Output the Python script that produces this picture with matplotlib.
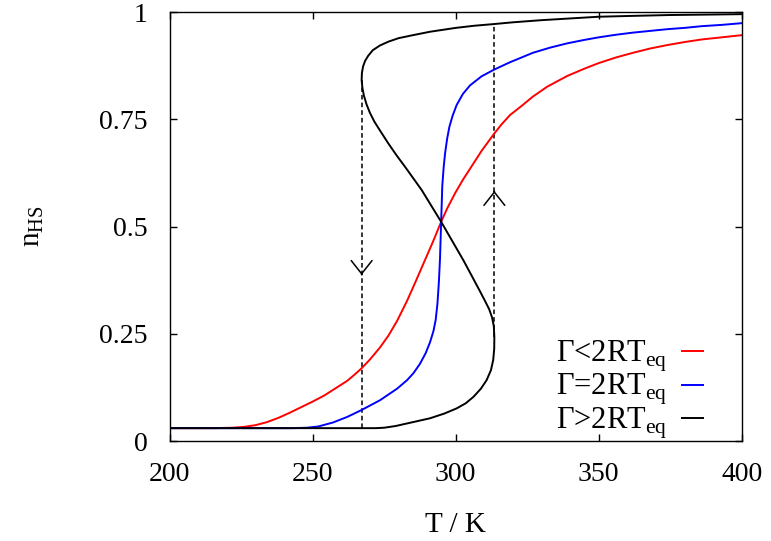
import matplotlib
matplotlib.use("Agg")
import matplotlib.pyplot as plt
from matplotlib.lines import Line2D

plt.rcParams['font.family'] = ['Liberation Serif', 'DejaVu Serif']
plt.rcParams['mathtext.fontset'] = 'custom'
plt.rcParams['mathtext.rm'] = 'Liberation Serif'

# values
T_red = [200, 215, 222, 226, 230, 234, 238, 242, 246, 250, 254, 258, 262, 264.5, 267,
         270, 273.5, 276.5, 279.5, 283, 286, 289, 292, 294.9, 297, 299.8, 302.6, 306,
         309, 313.5, 316, 319, 323, 327, 332, 339, 345, 350, 356, 362, 368, 374, 380,
         386, 393, 400]
n_red = [0.030, 0.030, 0.031, 0.033, 0.037, 0.044, 0.054, 0.066, 0.079, 0.092, 0.106,
         0.123, 0.140, 0.154, 0.169, 0.190, 0.218, 0.246, 0.280, 0.327, 0.372, 0.418,
         0.464, 0.511, 0.542, 0.578, 0.610, 0.645, 0.676, 0.717, 0.738, 0.760, 0.781,
         0.803, 0.826, 0.851, 0.868, 0.881, 0.894, 0.905, 0.915, 0.923, 0.930, 0.936,
         0.941, 0.946]

T_blue = [200, 243, 248, 252, 257, 262, 267, 273.5, 279.5, 283, 285.2, 287.5, 289.5,
          291, 292.2, 293, 293.6, 294.1, 294.5, 294.9, 295.3, 295.8, 296.3, 297, 297.8,
          298.9, 300.3, 302.5, 305, 309, 313.5, 319, 327, 333, 339, 345, 350, 356, 362,
          368, 374, 380, 386, 393, 400]
n_blue = [0.030, 0.030, 0.031, 0.034, 0.043, 0.056, 0.072, 0.095, 0.122, 0.142, 0.158,
          0.180, 0.205, 0.230, 0.256, 0.283, 0.320, 0.370, 0.425, 0.511, 0.595, 0.640,
          0.672, 0.705, 0.733, 0.758, 0.783, 0.809, 0.829, 0.850, 0.866, 0.883, 0.905,
          0.917, 0.927, 0.935, 0.941, 0.947, 0.952, 0.956, 0.960, 0.963, 0.967, 0.970,
          0.974]

T_black = [200, 272, 275, 279, 283, 287, 291, 296, 300.3, 303.5, 306.2, 308.8, 310.8,
           312.3, 313.1, 313.45, 313.5, 313.3, 312.7, 311.7, 310.2, 308.4, 305.6, 302.7,
           298.8, 294.9, 291.5, 288.1, 285.2, 282.3, 279.3, 276.4, 273.5, 271.6, 270.0,
           268.8, 267.9, 267.4, 267.1, 267.2, 267.6, 268.3, 269.4, 271.0, 273.5, 276.5,
           280, 285, 291, 300, 306.5, 313.5, 320, 330, 340, 350, 362, 375, 388, 400]
n_black = [0.030, 0.030, 0.031, 0.035, 0.041, 0.047, 0.053, 0.064, 0.076, 0.088, 0.103,
           0.122, 0.142, 0.165, 0.189, 0.215, 0.243, 0.268, 0.288, 0.307, 0.327, 0.350,
           0.385, 0.421, 0.466, 0.511, 0.548, 0.585, 0.612, 0.639, 0.666, 0.694, 0.724,
           0.744, 0.765, 0.785, 0.805, 0.822, 0.841, 0.858, 0.873, 0.886, 0.898, 0.911,
           0.922, 0.931, 0.939, 0.946, 0.954, 0.963, 0.968, 0.972, 0.976, 0.981, 0.985,
           0.989, 0.991, 0.993, 0.994, 0.995]

dash_T = [267.1, 313.5]
dash_lo = [0.030, 0.243]
dash_hi = [0.841, 0.972]
arrow_n = [0.387, 0.583]
arrow_dir = [-1, 1]

labels = ['Γ<2RT$_{\\mathregular{eq}}$', 'Γ=2RT$_{\\mathregular{eq}}$',
          'Γ>2RT$_{\\mathregular{eq}}$']
colors = ['#ff0000', '#0000ff', '#000000']

fig = plt.figure(figsize=(7.71, 5.41), dpi=100)
ax = fig.add_axes([0.2201, 0.1848, 0.742, 0.793])

for t, lo, hi in zip(dash_T, dash_lo, dash_hi):
    ax.plot([t, t], [lo, hi], color='k', lw=1.1, dashes=(3, 2))
for t, n, d in zip(dash_T, arrow_n, arrow_dir):
    ax.annotate('', xy=(t, n), xytext=(t, n - d * 0.002),
                arrowprops=dict(arrowstyle='->,head_length=0.95,head_width=0.75',
                                lw=1.1, color='k', shrinkA=0, shrinkB=0))

ax.plot(T_red, n_red, color=colors[0], lw=1.4)
ax.plot(T_blue, n_blue, color=colors[1], lw=1.4)
ax.plot(T_black, n_black, color=colors[2], lw=1.4)

ax.set_xlim(200, 400)
ax.set_ylim(0, 1)
ax.set_xticks([200, 250, 300, 350, 400])
ax.set_yticks([0, 0.25, 0.5, 0.75, 1])
ax.set_yticklabels(['0', '0.25', '0.5', '0.75', '1'])
ax.tick_params(direction='in', length=5, width=1, top=True, right=True,
               labelsize=20)
ax.tick_params(axis='x', pad=15)
ax.tick_params(axis='y', pad=16)
for s in ax.spines.values():
    s.set_linewidth(1.0)

ax.set_xlabel('T / K', fontsize=21, labelpad=18)
ax.set_ylabel('n$_{\\mathregular{HS}}$', fontsize=21, labelpad=38)

handles = [Line2D([], [], color=c, lw=1.4) for c in colors]
ax.legend(handles, labels, loc='lower right', bbox_to_anchor=(0.932, 0.0),
          markerfirst=False, frameon=False, fontsize=22, handlelength=0.68,
          handletextpad=0.5, labelspacing=-0.05, borderaxespad=0.0, borderpad=0.0)

fig.savefig('out.png', dpi=100)
